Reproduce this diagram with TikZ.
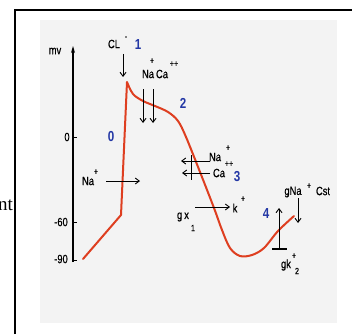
\documentclass[tikz,border=0pt]{standalone}
\usepackage{fontspec}
\usetikzlibrary{arrows.meta}
\newfontfamily\labfont{Liberation Sans}[FakeStretch=0.78,FakeBold=0.6]
\newfontfamily\digfont{Liberation Sans}[FakeStretch=0.8]
\newfontfamily\serfont{Liberation Serif}
\definecolor{curvered}{RGB}{222,62,32}
\definecolor{phaseblue}{RGB}{35,55,165}
\definecolor{paper}{RGB}{243,243,243}
\begin{document}
\begin{tikzpicture}[x=1pt,y=-1pt,
  lab/.style={font=\labfont\fontsize{12}{14}\selectfont, inner sep=0pt},
  sup/.style={font=\labfont\fontsize{9}{10}\selectfont, inner sep=0pt},
  phase/.style={font=\digfont\bfseries\fontsize{14.5}{16}\selectfont, text=phaseblue, inner sep=0pt},
  ion/.style={line width=0.9pt, -{Straight Barb[length=4pt,width=6pt]}},
  frameline/.style={line width=2pt, black},
  axisline/.style={line width=1.2pt, -{Stealth[length=7pt,width=4pt]}},
  apcurve/.style={line width=2pt, curvered, line join=round, line cap=round},
]
\useasboundingbox (0,0) rectangle (352,334);
\fill[white] (0,0) rectangle (352,334);
% frame
\draw[frameline] (15,334) -- (15,10) -- (352,10);
% cut text at left
\node[font=\serfont\fontsize{19}{22}\selectfont, anchor=base east, inner sep=0pt] (cut) at (13,210) {nt};
% paper background
\fill[paper] (40,20) rectangle (337,323);

% axis
\coordinate (axB) at (73,262);
\coordinate (axT) at (73,46);
\draw[axisline] (axB) -- (axT);
\node[lab] (mv) at (55,51) {mv};
\draw[line width=1pt] (73,137) -- (77,137);
\draw[line width=1pt] (73,222) -- (77,222);
\draw[line width=1pt] (73,260) -- (77,260);
\node[lab] (z0) at (67,137) {0};
\node[lab] (m60) at (61,222) {-60};
\node[lab] (m90) at (61,259) {-90};

% action potential
\draw[apcurve] (83,259) -- (121,215) -- (127,82)
  plot[smooth, tension=0.55] coordinates {(127,82) (133,94) (143,101) (155,106) (168,112) (178,121) (186,137) (200,172) (214,208) (222,230) (230,248) (240,256) (252,255) (264,248) (278,231) (294,216)};

% phase numbers
\node[phase] (p0) at (111,137) {0};
\node[phase] (p1) at (138,45) {1};
\node[phase] (p2) at (183,103) {2};
\node[phase] (p3) at (237,177) {3};
\node[phase] (p4) at (266,214) {4};

% CL-
\node[lab] (cl) at (114,44) {CL};
\node[sup] (clsup) at (126,38) {-};
\coordinate (clA) at (123,54);
\coordinate (clB) at (123,77);
\draw[ion] (clA) -- (clB);

% Na+ Ca++ (top)
\node[lab] (naT) at (148,74) {Na};
\node[sup] (naTs) at (152,61) {+};
\node[lab] (caT) at (162,74) {Ca};
\node[sup] (caTs) at (174,64) {++};
\coordinate (naTA) at (143,89);
\coordinate (naTB) at (143,123);
\coordinate (caTA) at (153,89);
\coordinate (caTB) at (153,123);
\draw[ion] (naTA) -- (naTB);
\draw[ion] (caTA) -- (caTB);

% Na+ (phase 0)
\node[lab] (naL) at (88,181) {Na};
\node[sup] (naLs) at (96,172) {+};
\coordinate (naLA) at (106,181);
\coordinate (naLB) at (140,181);
\draw[ion] (naLA) -- (naLB);

% Na+ Ca++ (phase 3, outward block)
\node[lab] (naR) at (215,157) {Na};
\node[sup] (naRs) at (228,148) {+};
\node[lab] (caR) at (219,173) {Ca};
\node[sup] (caRs) at (229,164) {++};
\coordinate (naRA) at (210,161);
\coordinate (naRB) at (181,161);
\coordinate (caRA) at (210,173);
\coordinate (caRB) at (182,173);
\draw[ion] (naRA) -- (naRB);
\draw[ion] (caRA) -- (caRB);
\coordinate (barA) at (191,155);
\coordinate (barB) at (191,180);
\draw[line width=0.9pt] (barA) -- (barB);

% g x1 -> k+
\node[lab] (gx) at (183,217) {g\,x};
\node[sup] (gxs) at (193,228) {1};
\node[lab] (kk) at (235,208) {k};
\node[sup] (kks) at (243,199) {+};
\coordinate (gxA) at (195,207);
\coordinate (gxB) at (230,207);
\draw[ion] (gxA) -- (gxB);

% gk2+ (up arrow with bar)
\coordinate (gkA) at (279,249);
\coordinate (gkB) at (279,208);
\draw[ion] (gkA) -- (gkB);
\coordinate (tbarA) at (272,249);
\coordinate (tbarB) at (287,249);
\draw[line width=1.2pt] (tbarA) -- (tbarB);
\node[lab] (gk) at (286,265) {gk};
\node[sup] (gks) at (294,256) {+};
\node[sup] (gk2) at (297,271) {2};

% gNa+ Cst
\node[lab] (gna) at (293,192) {gNa};
\node[sup] (gnas) at (309,186) {+};
\node[lab] (cst) at (323,191) {Cst};
\coordinate (gnaA) at (298,198);
\coordinate (gnaB) at (298,223);
\draw[ion] (gnaA) -- (gnaB);
\end{tikzpicture}
\end{document}
